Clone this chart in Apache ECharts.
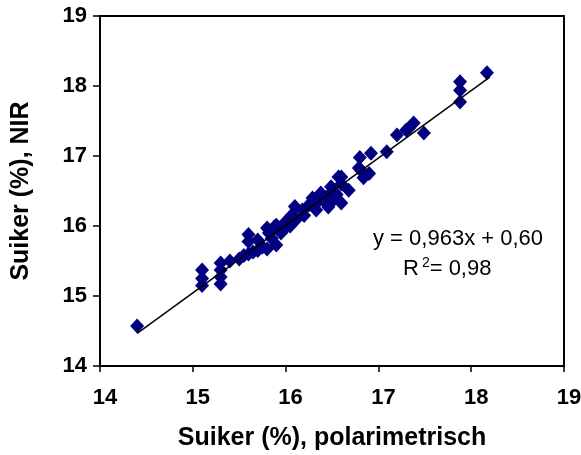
<!DOCTYPE html>
<html>
<head>
<meta charset="utf-8">
<script src="https://cdn.jsdelivr.net/npm/echarts@6/dist/echarts.min.js"></script>
<style>
  html, body { margin: 0; padding: 0; background: #fff; }
  #chart { width: 581px; height: 455px; }
</style>
</head>
<body>
<div id="chart"></div>
<script>
// polarimetrisch vs NIR sugar (%)
const polarimetrisch = [
  14.4,
  15.1, 15.1, 15.1,
  15.3, 15.3, 15.3, 15.3,
  15.4, 15.5, 15.55, 15.6, 15.6, 15.65, 15.6,
  15.7, 15.7, 15.75, 15.8, 15.82, 15.8, 15.85, 15.9, 15.88, 15.9, 15.95,
  16.0, 16.0, 16.05, 16.07, 16.1, 16.12, 16.18, 16.2, 16.25, 16.29,
  16.33, 16.35, 16.38, 16.4, 16.45, 16.46, 16.49, 16.5, 16.55, 16.57,
  16.6, 16.6, 16.6, 16.68, 16.79, 16.8, 16.84, 16.81, 16.9, 16.92,
  17.09, 17.2, 17.3, 17.33, 17.38, 17.49,
  17.88, 17.88, 17.88, 18.17
]
const nir = [
  14.57,
  15.37, 15.25, 15.15,
  15.47, 15.37, 15.27, 15.17,
  15.5, 15.53, 15.58, 15.88, 15.78, 15.63, 15.6,
  15.8, 15.65, 15.7, 15.97, 15.9, 15.67, 15.82, 15.73, 15.99, 16.01, 15.9,
  16.06, 15.97, 16.0, 16.16, 16.28, 16.1, 16.23, 16.15, 16.3, 16.4,
  16.23, 16.35, 16.47, 16.38, 16.42, 16.27, 16.56, 16.35, 16.45, 16.7,
  16.33, 16.6, 16.7, 16.51, 16.83, 16.98, 16.69, 16.8, 16.75, 17.04,
  17.06, 17.3, 17.37, 17.4, 17.47, 17.33,
  18.06, 17.94, 17.77, 18.19
]
const axisTicks = [14, 15, 16, 17, 18, 19]
const slope = 0.963
const intercept = 0.60
const trendX = [14.4, 18.2]

const points = polarimetrisch.map((x, i) => [x, nir[i]])
const trend = trendX.map(x => [x, slope * x + intercept])

let chart = echarts.init(document.getElementById('chart'))

const fontFamily = 'Liberation Sans, Arial, sans-serif'
const tickFont = { color: '#000', fontFamily, fontWeight: 'bold', fontSize: 22 }
const nameFont = { color: '#000', fontFamily, fontWeight: 'bold', fontSize: 25 }

let option = {
  animation: false,
  grid: {
    left: 100, right: 17, top: 16, bottom: 89,
    outerBoundsMode: 'none',
    show: true, borderColor: '#000', borderWidth: 2
  },
  xAxis: {
    type: 'value',
    min: axisTicks[0], max: axisTicks[axisTicks.length - 1], interval: 1,
    name: 'Suiker (%), polarimetrisch',
    nameLocation: 'middle', nameGap: 60,
    nameTextStyle: nameFont,
    axisLine: { onZero: false, lineStyle: { color: '#000', width: 2 } },
    axisTick: { length: 6, lineStyle: { color: '#000', width: 1.5 } },
    axisLabel: Object.assign({ margin: 21, padding: [0, 0, 0, 10] }, tickFont),
    splitLine: { show: false }
  },
  yAxis: {
    type: 'value',
    min: axisTicks[0], max: axisTicks[axisTicks.length - 1], interval: 1,
    name: 'Suiker (%), NIR',
    nameLocation: 'middle', nameGap: 66,
    nameTextStyle: nameFont,
    axisLine: { onZero: false, lineStyle: { color: '#000', width: 2 } },
    axisTick: { length: 7, lineStyle: { color: '#000', width: 1.5 } },
    axisLabel: Object.assign({ margin: 13, padding: [4, 0, 0, 0] }, tickFont),
    splitLine: { show: false }
  },
  series: [
    {
      type: 'scatter',
      data: points,
      symbol: 'diamond',
      symbolSize: [14, 15],
      itemStyle: { color: '#000080', opacity: 1 },
      z: 2
    },
    {
      type: 'line',
      data: trend,
      symbol: 'none',
      lineStyle: { color: '#000', width: 1.5 },
      z: 3
    }
  ],
  graphic: [
    {
      type: 'text',
      left: 373, top: 228,
      style: {
        text: 'y = 0,963x + 0,60',
        fill: '#000',
        font: '22px Liberation Sans, Arial, sans-serif'
      }
    },
    {
      type: 'text',
      left: 403, top: 256,
      style: {
        text: '{r|R}{s|2}{r|= 0,98}',
        rich: {
          r: { fill: '#000', fontSize: 22, fontFamily, verticalAlign: 'bottom' },
          s: { fill: '#000', fontSize: 14, fontFamily, verticalAlign: 'top', padding: [0, 0, 10, 3] }
        }
      }
    }
  ]
}

chart.setOption(option)
</script>
</body>
</html>
